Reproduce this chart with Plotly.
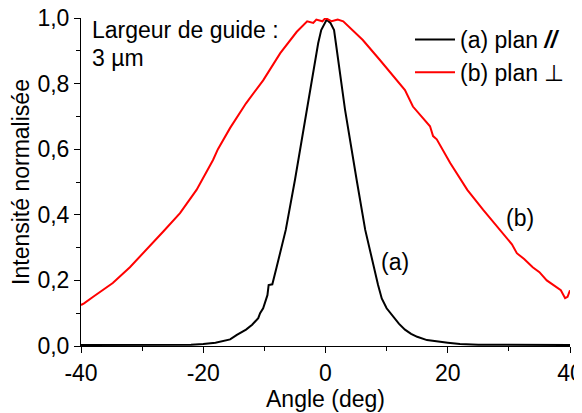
import plotly.graph_objects as go

# Series (a): plan // (narrow peak)
angle_a = [-40, -35, -30, -25, -22, -20, -18, -15.6, -14.5, -13, -12, -11, -10.7, -10.2,
           -9.5, -9.3, -8.7, -8, -6.5, -5, -3.1, -1.2, -0.7, 0.2, 0.8, 1.4, 1.7, 3.2, 5.1,
           6.5, 8.6, 9.2, 10, 11, 12, 13, 14, 15, 16.6, 20, 22, 25, 30, 35, 40]
int_a = [0.003, 0.003, 0.003, 0.004, 0.004, 0.006, 0.01, 0.02, 0.034, 0.05, 0.065, 0.085, 0.10, 0.115,
         0.155, 0.186, 0.188, 0.24, 0.354, 0.506, 0.72, 0.923, 0.963, 0.995, 0.985, 0.963, 0.923, 0.72, 0.506,
         0.354, 0.186, 0.145, 0.115, 0.09, 0.068, 0.05, 0.037, 0.028, 0.018, 0.01, 0.006, 0.004, 0.003, 0.003, 0.003]

# Series (b): plan ⊥ (broad peak)
angle_b = [-40, -39.5, -38, -36.5, -34.8, -32, -29.3, -26.5, -23.8, -21.1, -18.4, -17.6, -15.6,
           -13, -10.2, -7.4, -4.7, -3, -2, -1.5, -0.5, 0, 1, 2, 2.9, 4.5, 6.1, 8.9, 11.6, 13,
           14.3, 16.5, 17.1, 17.6, 18.2, 20.4, 23.2, 25.8, 28.6, 30.5, 31.3, 32.5, 33.9, 35,
           36.2, 37.8, 38.5, 39.2, 39.6, 40]
int_b = [0.125, 0.13, 0.15, 0.17, 0.192, 0.24, 0.293, 0.35, 0.405, 0.476, 0.567, 0.6, 0.665,
         0.74, 0.81, 0.893, 0.958, 0.99, 0.985, 0.995, 0.99, 1.0, 0.99, 0.995, 0.99, 0.96, 0.933, 0.872, 0.81, 0.78,
         0.73, 0.685, 0.67, 0.64, 0.63, 0.558, 0.476, 0.415, 0.354, 0.31, 0.283, 0.265, 0.24, 0.225,
         0.2, 0.18, 0.17, 0.146, 0.15, 0.17]

x_ticks = [-40, -20, 0, 20, 40]
x_ticklabels = ["-40", "-20", "0", "20", "40"]
y_ticks = [0, 0.2, 0.4, 0.6, 0.8, 1.0]
y_ticklabels = ["0,0", "0,2", "0,4", "0,6", "0,8", "1,0"]

name_a = "(a) plan <b><i>//</i></b>"
name_b = "(b) plan ⊥"

FONT = "Liberation Sans, Arial, sans-serif"
FS = 23

fig = go.Figure()
fig.add_trace(go.Scatter(x=angle_a, y=int_a, mode="lines", name=name_a,
                         line=dict(color="black", width=2)))
fig.add_trace(go.Scatter(x=angle_b, y=int_b, mode="lines", name=name_b,
                         line=dict(color="red", width=2)))

# page body has an 8px margin: figure is sized to fill the rest of the window
fig.update_layout(
    width=574, height=405,
    margin=dict(l=73, r=12, t=10, b=67, autoexpand=False),
    plot_bgcolor="white", paper_bgcolor="white",
    font=dict(family=FONT, size=FS, color="black"),
    showlegend=True,
    legend=dict(x=1.0, y=1.0, xanchor="right", yanchor="top",
                bgcolor="rgba(0,0,0,0)", font=dict(size=FS),
                tracegroupgap=0, itemwidth=40),
    xaxis=dict(range=[-40, 40], tickvals=x_ticks, ticktext=x_ticklabels,
               showline=True, linecolor="black", linewidth=1,
               ticks="outside", ticklen=6, tickcolor="black", ticklabeloverflow="allow",
               minor=dict(tickvals=[-30, -10, 10, 30], ticks="outside", ticklen=4, tickcolor="black"),
               showgrid=False, zeroline=False, automargin=False,
               title=dict(text="Angle (deg)", font=dict(size=FS), standoff=0)),
    yaxis=dict(range=[0, 1.0], tickvals=y_ticks, ticktext=y_ticklabels,
               showline=True, linecolor="black", linewidth=1,
               ticks="outside", ticklen=6, tickcolor="black", ticklabeloverflow="allow",
               minor=dict(tickvals=[0.1, 0.3, 0.5, 0.7, 0.9], ticks="outside", ticklen=4, tickcolor="black"),
               showgrid=False, zeroline=False, automargin=False,
               title=dict(text="Intensité normalisée", font=dict(size=FS), standoff=4)),
    annotations=[
        dict(x=-38.6, y=0.963, xref="x", yref="y", text="Largeur de guide :", showarrow=False,
             xanchor="left", yanchor="middle", font=dict(size=FS)),
        dict(x=-38.6, y=0.878, xref="x", yref="y", text="3 µm", showarrow=False,
             xanchor="left", yanchor="middle", font=dict(size=FS)),
        dict(x=11.4, y=0.256, xref="x", yref="y", text="(a)", showarrow=False,
             xanchor="center", yanchor="middle", font=dict(size=FS)),
        dict(x=31.8, y=0.39, xref="x", yref="y", text="(b)", showarrow=False,
             xanchor="center", yanchor="middle", font=dict(size=FS)),
    ],
)

fig.write_html("out.html")
